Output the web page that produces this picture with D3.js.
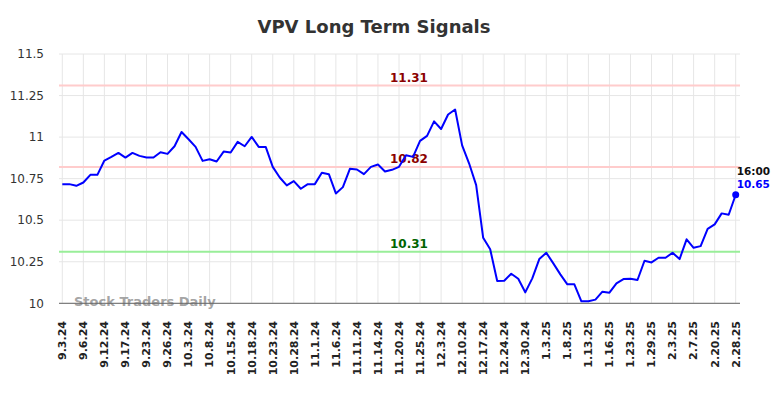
<!DOCTYPE html>
<html>
<head>
<meta charset="utf-8">
<script src="https://cdn.jsdelivr.net/npm/d3@7"></script>
<style>
  body { margin: 0; background: #fff; }
  svg { display: block; font-family: 'DejaVu Sans', sans-serif; }
</style>
</head>
<body>
<div id="chart-container"></div>
<script>
// tick labels shown under every third point
const dateLabels = [
  '9.3.24', '9.6.24', '9.12.24', '9.17.24', '9.23.24', '9.26.24', '10.3.24', '10.8.24',
  '10.15.24', '10.18.24', '10.23.24', '10.28.24', '11.1.24', '11.6.24', '11.11.24', '11.14.24',
  '11.20.24', '11.25.24', '12.3.24', '12.10.24', '12.17.24', '12.24.24', '12.30.24', '1.3.25',
  '1.8.25', '1.13.25', '1.16.25', '1.23.25', '1.29.25', '2.3.25', '2.7.25', '2.20.25', '2.28.25'
];

// closing prices
const prices = [
  10.717, 10.717, 10.707, 10.727, 10.773, 10.773, 10.859, 10.881, 10.905, 10.877,
  10.905, 10.887, 10.877, 10.877, 10.909, 10.899, 10.945, 11.031, 10.987, 10.941,
  10.857, 10.867, 10.853, 10.913, 10.907, 10.971, 10.945, 11.001, 10.941, 10.941,
  10.821, 10.757, 10.709, 10.735, 10.689, 10.717, 10.717, 10.785, 10.777, 10.661,
  10.699, 10.809, 10.805, 10.777, 10.821, 10.835, 10.793, 10.803, 10.821, 10.891,
  10.881, 10.977, 11.007, 11.095, 11.049, 11.136, 11.166, 10.950, 10.841, 10.711,
  10.394, 10.325, 10.134, 10.136, 10.178, 10.148, 10.066, 10.150, 10.266, 10.304,
  10.240, 10.174, 10.114, 10.114, 10.012, 10.012, 10.022, 10.070, 10.064, 10.120,
  10.146, 10.148, 10.140, 10.256, 10.246, 10.274, 10.274, 10.304, 10.266, 10.385,
  10.334, 10.344, 10.448, 10.475, 10.541, 10.533, 10.653
];

const yTicks = [10, 10.25, 10.5, 10.75, 11, 11.25, 11.5];

// signal levels
const resistanceLevels = [11.31, 10.82];
const supportLevels = [10.31];

const lastTime = '16:00';
const lastPrice = 10.65;

const width = 784;
const height = 398;
const plot = { left: 59, right: 740, top: 54, bottom: 303.3 };
const labelStep = 3;

const svg = d3.select('#chart-container')
  .append('svg')
  .attr('width', width)
  .attr('height', height);

const x = d3.scalePoint()
  .domain(d3.range(prices.length))
  .range([62.3, 735.7]);

const y = d3.scaleLinear()
  .domain([10, 11.5])
  .range([plot.bottom, plot.top]);

// title
svg.append('text')
  .attr('x', 374)
  .attr('y', 33)
  .attr('text-anchor', 'middle')
  .style('font-size', '18px')
  .style('font-weight', 'bold')
  .attr('fill', '#333')
  .text('VPV Long Term Signals');

// horizontal grid
svg.append('g')
  .selectAll('line')
  .data(yTicks)
  .join('line')
  .attr('x1', plot.left)
  .attr('x2', plot.right)
  .attr('y1', d => y(d))
  .attr('y2', d => y(d))
  .attr('stroke', '#e6e6e6')
  .attr('stroke-width', 1);

// vertical grid, one per date label
const tickIdx = dateLabels.map((_, i) => i * labelStep);
svg.append('g')
  .selectAll('line')
  .data(tickIdx)
  .join('line')
  .attr('x1', d => x(d))
  .attr('x2', d => x(d))
  .attr('y1', plot.top)
  .attr('y2', plot.bottom)
  .attr('stroke', '#e6e6e6')
  .attr('stroke-width', 1);

// y axis labels
svg.append('g')
  .selectAll('text')
  .data(yTicks)
  .join('text')
  .attr('x', 44)
  .attr('y', d => y(d))
  .attr('dy', '0.35em')
  .attr('text-anchor', 'end')
  .style('font-size', '12px')
  .attr('fill', '#333')
  .text(d => String(d));

// x axis labels
svg.append('g')
  .selectAll('text')
  .data(tickIdx)
  .join('text')
  .attr('transform', d => `translate(${x(d)},321) rotate(-90)`)
  .attr('dy', '0.35em')
  .attr('text-anchor', 'end')
  .style('font-size', '11px')
  .style('font-weight', 'bold')
  .attr('fill', '#222')
  .text((d, i) => dateLabels[i]);

// signal lines
const levels = resistanceLevels.map(v => ({ v, line: '#ffcccc', text: '#8b0000' }))
  .concat(supportLevels.map(v => ({ v, line: '#99ee99', text: '#006400' })));

svg.append('g')
  .selectAll('line')
  .data(levels)
  .join('line')
  .attr('x1', plot.left)
  .attr('x2', plot.right)
  .attr('y1', d => y(d.v))
  .attr('y2', d => y(d.v))
  .attr('stroke', d => d.line)
  .attr('stroke-width', 2);

svg.append('g')
  .selectAll('text')
  .data(levels)
  .join('text')
  .attr('x', 409)
  .attr('y', d => y(d.v) - 4)
  .attr('text-anchor', 'middle')
  .style('font-size', '12px')
  .style('font-weight', 'bold')
  .attr('fill', d => d.text)
  .text(d => d.v.toFixed(2));

// watermark
svg.append('text')
  .attr('x', 74)
  .attr('y', 306)
  .style('font-size', '13px')
  .style('font-weight', 'bold')
  .attr('fill', '#999')
  .attr('fill-opacity', 0.9)
  .text('Stock Traders Daily');

// axis base line
svg.append('line')
  .attr('x1', plot.left)
  .attr('x2', plot.right)
  .attr('y1', plot.bottom)
  .attr('y2', plot.bottom)
  .attr('stroke', '#666')
  .attr('stroke-width', 1);

// price line
const line = d3.line()
  .x((d, i) => x(i))
  .y(d => y(d));

svg.append('path')
  .datum(prices)
  .attr('d', line)
  .attr('fill', 'none')
  .attr('stroke', '#0000ff')
  .attr('stroke-width', 2)
  .attr('stroke-linejoin', 'round');

// last point marker and labels
const lastI = prices.length - 1;
svg.append('circle')
  .attr('cx', x(lastI))
  .attr('cy', y(prices[lastI]))
  .attr('r', 3.5)
  .attr('fill', '#0000ff');

svg.append('text')
  .attr('x', x(lastI) + 1)
  .attr('y', 175)
  .style('font-size', '10.5px')
  .style('font-weight', 'bold')
  .attr('fill', '#111')
  .text(lastTime);

svg.append('text')
  .attr('x', x(lastI) + 1)
  .attr('y', 188)
  .style('font-size', '10.5px')
  .style('font-weight', 'bold')
  .attr('fill', '#0000ff')
  .text(lastPrice.toFixed(2));
</script>
</body>
</html>
